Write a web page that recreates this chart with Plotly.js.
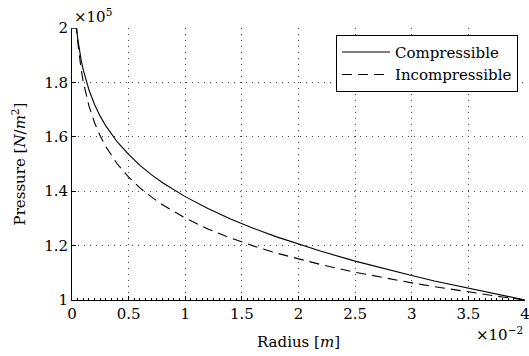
<!DOCTYPE html>
<html>
<head>
<meta charset="utf-8">
<script src="https://cdn.plot.ly/plotly-3.0.1.min.js"></script>
<style>
  html, body { margin: 0; padding: 0; background: #fff; }
  #chart { width: 529px; height: 356px; }
</style>
</head>
<body>
<div id="chart"></div>
<script>
// Radius in metres
var radius = [0, 0.0004, 0.0005, 0.0006, 0.0008, 0.001, 0.0012, 0.0015, 0.002, 0.0025, 0.003,
  0.004, 0.005, 0.006, 0.007, 0.008, 0.01, 0.012, 0.014, 0.016, 0.018, 0.02, 0.022,
  0.025, 0.028, 0.03, 0.032, 0.035, 0.038, 0.04];
// Pressure in N/m^2
var compressible = [2.0e5, 2.0e5, 1.963e5, 1.933e5, 1.884e5, 1.845e5, 1.812e5, 1.772e5, 1.718e5, 1.675e5, 1.639e5,
  1.581e5, 1.535e5, 1.495e5, 1.461e5, 1.431e5, 1.380e5, 1.336e5, 1.298e5, 1.264e5, 1.233e5, 1.205e5, 1.179e5,
  1.143e5, 1.110e5, 1.090e5, 1.070e5, 1.043e5, 1.017e5, 1.0e5];
var incompressible = [2.0e5, 2.0e5, 1.952e5, 1.912e5, 1.850e5, 1.801e5, 1.761e5, 1.713e5, 1.651e5, 1.602e5, 1.563e5,
  1.500e5, 1.452e5, 1.412e5, 1.379e5, 1.350e5, 1.301e5, 1.261e5, 1.228e5, 1.199e5, 1.173e5, 1.151e5, 1.130e5,
  1.102e5, 1.078e5, 1.063e5, 1.049e5, 1.029e5, 1.011e5, 1.0e5];

var xTickVals = [0, 0.005, 0.01, 0.015, 0.02, 0.025, 0.03, 0.035, 0.04];
var xTickText = ['0', '0.5', '1', '1.5', '2', '2.5', '3', '3.5', '4'];
var yTickVals = [1.0e5, 1.2e5, 1.4e5, 1.6e5, 1.8e5, 2.0e5];
var yTickText = ['1', '1.2', '1.4', '1.6', '1.8', '2'];

var FONT = 'DejaVu Serif';

var traces = [
  { x: radius, y: compressible, mode: 'lines', name: 'Compressible',
    line: { color: '#000', width: 1.1, dash: 'solid' } },
  { x: radius, y: incompressible, mode: 'lines', name: 'Incompressible',
    line: { color: '#000', width: 1.1, dash: '10px,6px' } }
];

var grid = { showgrid: true, gridcolor: '#444', gridwidth: 1, griddash: '1px,5px' };

var layout = {
  width: 529, height: 356,
  margin: { l: 72, r: 4, t: 28, b: 56 },
  paper_bgcolor: '#fff', plot_bgcolor: '#fff',
  font: { family: FONT, size: 15, color: '#000' },
  showlegend: true,
  legend: {
    x: 0.9845, xanchor: 'right', y: 0.975, yanchor: 'top',
    bgcolor: '#fff', bordercolor: '#000', borderwidth: 1,
    font: { family: FONT, size: 15, color: '#000' },
    itemwidth: 48, tracegroupgap: 0
  },
  xaxis: Object.assign({
    range: [0, 0.04], tickvals: xTickVals, ticktext: xTickText,
    ticks: 'inside', ticklen: 4, tickcolor: '#000', ticklabeloverflow: 'allow',
    tickfont: { family: FONT, size: 15 },
    showline: true, linecolor: '#000', linewidth: 1, zeroline: false, mirror: false,
    minor: { dtick: 0.0005, ticks: 'inside', ticklen: 2, tickcolor: '#000', showgrid: false },
    title: { text: 'Radius [<i>m</i>]', font: { family: FONT, size: 15 }, standoff: 14 }
  }, grid),
  yaxis: Object.assign({
    range: [1.0e5, 2.0e5], tickvals: yTickVals, ticktext: yTickText,
    ticks: 'inside', ticklen: 4, tickcolor: '#000', ticklabeloverflow: 'allow',
    tickfont: { family: FONT, size: 15 },
    showline: true, linecolor: '#000', linewidth: 1, zeroline: false, mirror: false,
    title: { text: 'Pressure [<i>N</i>/<i>m</i><sup>2</sup>]', font: { family: FONT, size: 15 }, standoff: 14 }
  }, grid),
  annotations: [
    { xref: 'paper', yref: 'paper', x: 0.0, y: 1.0, xanchor: 'left', yanchor: 'bottom',
      text: '×10<sup>5</sup>', showarrow: false, font: { family: FONT, size: 15 } },
    { xref: 'paper', yref: 'paper', x: 1.0, y: 0, xanchor: 'right', yanchor: 'top',
      text: '×10<sup>−2</sup>', showarrow: false, font: { family: FONT, size: 15 }, yshift: -22 }
  ]
};

Plotly.newPlot('chart', traces, layout, { displayModeBar: false, staticPlot: true }).then(function (gd) {
  // If the last x tick label was hidden at the page edge, draw it as an annotation at that tick.
  var lastVal = xTickVals[xTickVals.length - 1];
  var lastText = xTickText[xTickText.length - 1];
  var shown = false;
  gd.querySelectorAll('.xtick text').forEach(function (t) {
    if (t.textContent === lastText && t.getAttribute('display') !== 'none' && t.style.display !== 'none') {
      var bb = t.getBBox();
      if (bb.width > 0) shown = true;
    }
  });
  if (!shown) {
    var ann = layout.annotations.slice();
    ann.push({ xref: 'x', yref: 'paper', x: lastVal, y: 0, xanchor: 'center', yanchor: 'top',
      text: lastText, showarrow: false, font: { family: FONT, size: 15 }, yshift: -1 });
    return Plotly.relayout(gd, { annotations: ann });
  }
});
</script>
</body>
</html>
